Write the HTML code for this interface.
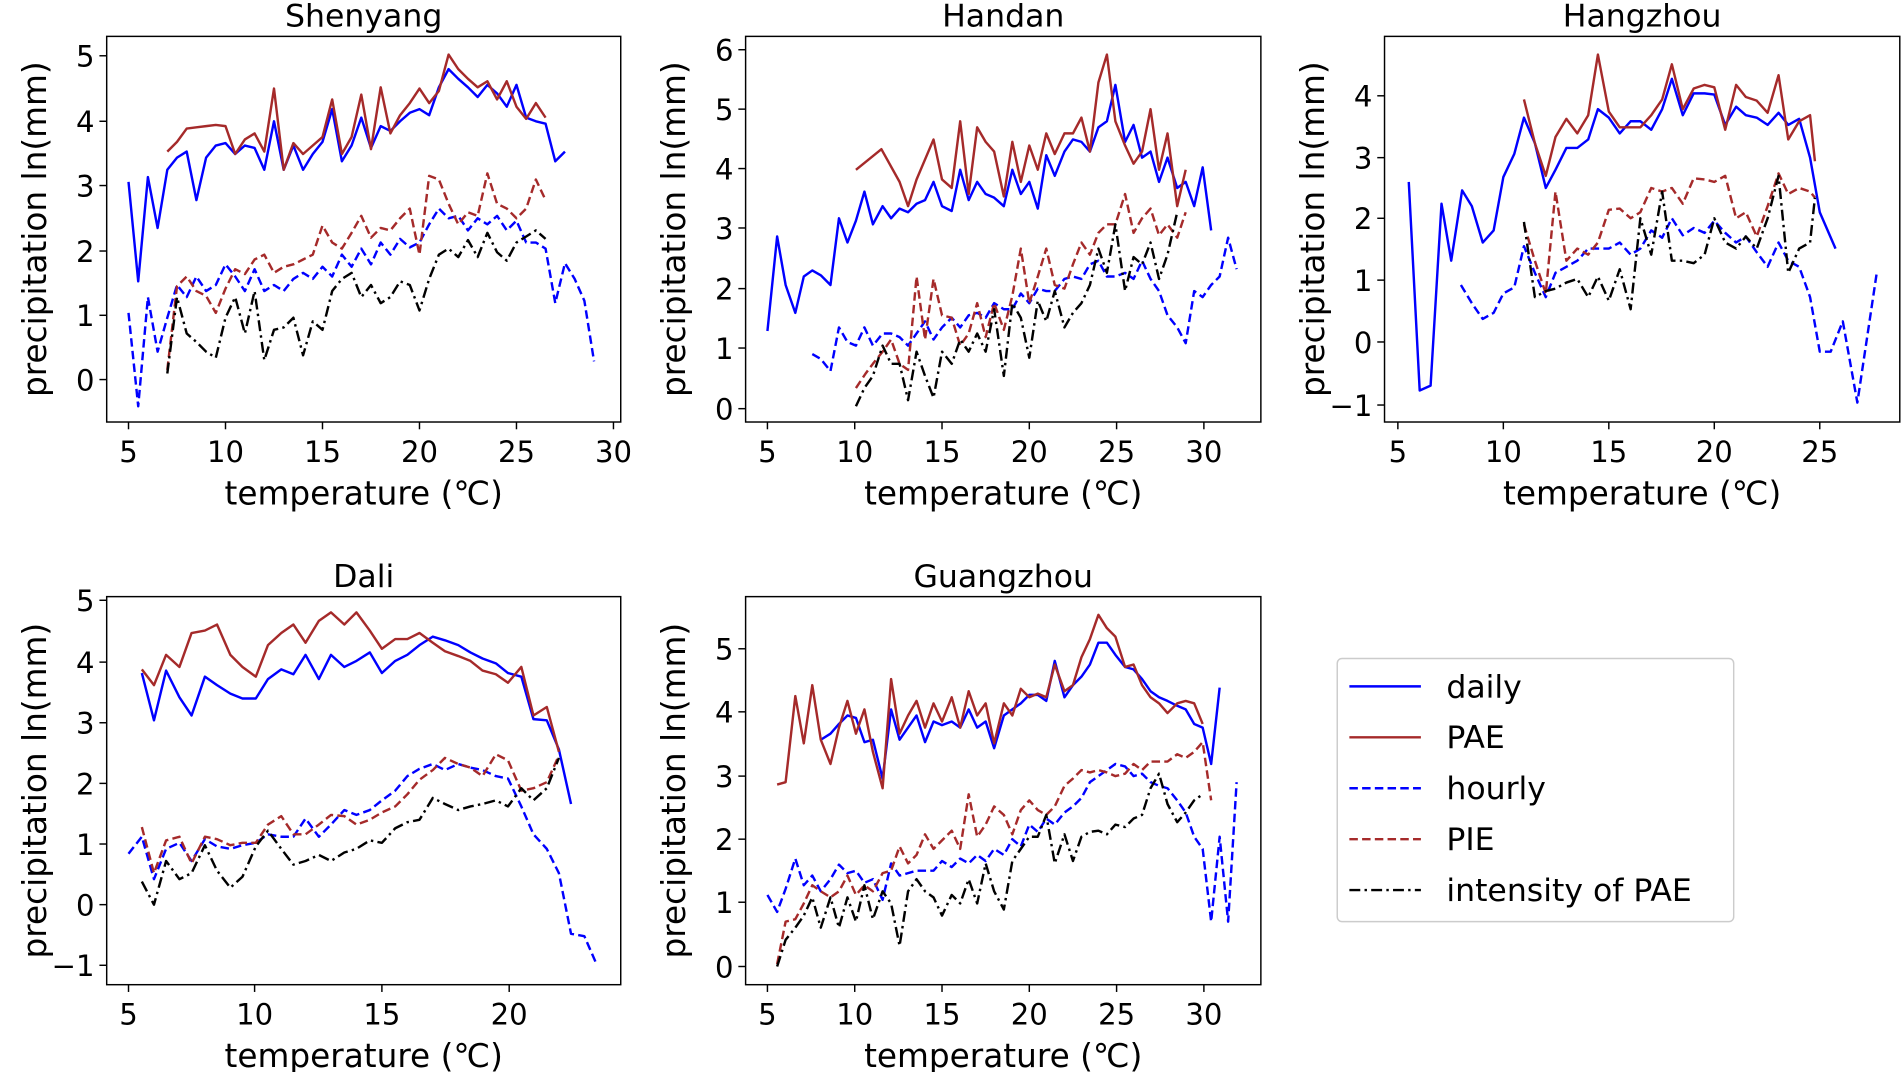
<!DOCTYPE html>
<html><head><meta charset="utf-8"><style>
html,body{margin:0;padding:0;background:#fff;}
svg{display:block;}
text{font-family:"DejaVu Sans","Liberation Sans",sans-serif;fill:#000;}
</style></head><body>
<svg id="s" width="1901" height="1072" viewBox="0 0 1568 884" preserveAspectRatio="none" xmlns="http://www.w3.org/2000/svg"></svg>
<script>
const S=document.getElementById('s');let h='';
function P(a){return a.map(p=>p.join(',')).join(' ');}
function line(pts,c,d){h+=`<polyline points="${P(pts)}" fill="none" stroke="${c}" stroke-width="2" stroke-linejoin="round" ${d?`stroke-dasharray="${d}"`:''}/>`;}
const BL='#0000ff',RD='#a52a2a',K='#000';
const DA='7,3.5',DD='9,3.5,2,3.5';
function panel(x0,x1,y0,y1,title,xt,yt,ser){
  ser.forEach(s=>line(s[0],s[1],s[2]));
  h+=`<rect x="${x0}" y="${y0}" width="${x1-x0}" height="${y1-y0}" fill="none" stroke="#000" stroke-width="1.2"/>`;
  xt.forEach(t=>{h+=`<line x1="${t[0]}" x2="${t[0]}" y1="${y1}" y2="${y1+6}" stroke="#000" stroke-width="1.2"/><text x="${t[0]}" y="${y1+33}" font-size="24" text-anchor="middle">${t[1]}</text>`;});
  yt.forEach(t=>{h+=`<line x1="${x0-6}" x2="${x0}" y1="${t[0]}" y2="${t[0]}" stroke="#000" stroke-width="1.2"/><text x="${x0-10}" y="${t[0]+9}" font-size="24" text-anchor="end">${t[1]}</text>`;});
  const cx=(x0+x1)/2;
  h+=`<text x="${cx}" y="${y0-8}" font-size="26" text-anchor="middle">${title}</text>`;
  h+=`<text x="${cx}" y="${y1+68}" font-size="27" text-anchor="middle">temperature (℃)</text>`;
  const cy=(y0+y1)/2;
  h+=`<text transform="translate(${x0-50},${cy}) rotate(-90)" font-size="27" text-anchor="middle">precipitation ln(mm)</text>`;
}
// Shenyang
panel(88,512,30,348,'Shenyang',[[106,5],[186,10],[266,15],[346,20],[426,25],[506,30]],[[313,0],[260,1],[207,2],[153,3],[100,4],[46,5]],[
[[[106,150],[114,232],[122,146],[130,188],[138,140],[146,130],[154,125],[162,165],[170,130],[178,120],[186,118],[194,127],[202,120],[210,122],[218,140],[226,100],[234,140],[242,120],[250,140],[258,127],[266,117],[274,90],[282,133],[290,120],[298,97],[306,122],[314,104],[322,108],[330,100],[338,93],[346,90],[354,95],[362,72],[370,57],[378,65],[386,72],[394,80],[402,70],[410,77],[418,88],[426,70],[434,97],[442,100],[450,102],[458,133],[466,125]],BL],
[[[138,125],[146,117],[154,106],[162,105],[170,104],[178,103],[186,104],[194,127],[202,115],[210,110],[218,125],[226,73],[234,140],[242,118],[250,127],[258,120],[266,113],[274,82],[282,127],[290,113],[298,78],[306,123],[314,72],[322,110],[330,95],[338,85],[346,73],[354,85],[362,75],[370,45],[378,57],[386,65],[394,72],[402,67],[410,82],[418,67],[426,88],[434,98],[442,85],[450,97]],RD],
[[[106,258],[114,335],[122,245],[130,290],[138,262],[146,235],[154,245],[162,228],[170,240],[178,235],[186,218],[194,228],[202,240],[210,222],[218,240],[226,235],[234,240],[242,230],[250,225],[258,230],[266,220],[274,228],[282,210],[290,220],[298,205],[306,218],[314,200],[322,210],[330,197],[338,204],[346,200],[354,185],[362,172],[370,180],[378,178],[386,190],[394,180],[402,185],[410,178],[418,190],[426,182],[434,200],[442,200],[450,205],[458,250],[466,217],[474,230],[482,248],[490,298]],BL,DA],
[[[138,305],[146,236],[154,228],[162,240],[170,244],[178,258],[186,238],[194,222],[202,226],[210,214],[218,210],[226,225],[234,220],[242,218],[250,214],[258,210],[266,186],[274,200],[282,205],[290,192],[298,178],[306,196],[314,188],[322,190],[330,180],[338,172],[346,210],[354,145],[362,148],[370,168],[378,185],[386,175],[394,178],[402,143],[410,168],[418,172],[426,180],[434,172],[442,148],[450,165]],RD,DA],
[[[138,308],[146,245],[154,275],[162,282],[170,290],[178,295],[186,262],[194,245],[202,275],[210,240],[218,297],[226,272],[234,270],[242,262],[250,293],[258,265],[266,272],[274,240],[282,230],[290,225],[298,245],[306,235],[314,250],[322,245],[330,232],[338,235],[346,256],[354,230],[362,210],[370,205],[378,212],[386,198],[394,212],[402,192],[410,208],[418,215],[426,200],[434,195],[442,190],[450,197]],K,DD]
]);
// Handan
panel(615,1040,30,348,'Handan',[[633,5],[705,10],[777,15],[849,20],[921,25],[993,30]],[[337,0],[287,1],[238,2],[188,3],[139,4],[90,5],[41,6]],[
[[[633,273],[641,195],[648,235],[656,258],[663,228],[670,223],[677,227],[685,235],[692,180],[699,200],[706,182],[713,158],[720,185],[728,170],[735,180],[742,172],[749,175],[756,168],[763,165],[770,150],[777,170],[785,174],[792,140],[799,165],[806,150],[813,160],[820,163],[828,170],[835,140],[842,160],[849,150],[856,172],[863,128],[870,145],[878,125],[885,115],[892,117],[899,125],[906,105],[913,100],[920,70],[928,117],[935,103],[942,130],[949,125],[956,150],[963,130],[971,155],[978,150],[985,170],[992,138],[999,190]],BL],
[[[706,140],[727,123],[742,150],[749,170],[756,148],[770,115],[777,148],[785,155],[792,100],[799,160],[806,105],[813,117],[820,125],[828,162],[835,117],[842,150],[849,120],[856,140],[863,110],[870,127],[878,110],[885,110],[892,97],[899,125],[906,68],[913,45],[920,100],[928,120],[935,135],[942,125],[949,90],[956,140],[963,110],[971,170],[978,140]],RD],
[[[670,292],[677,296],[685,306],[692,270],[699,282],[706,285],[713,270],[720,285],[728,275],[735,275],[742,278],[749,285],[756,275],[763,265],[770,280],[777,270],[785,262],[792,270],[799,260],[806,258],[813,262],[820,250],[828,255],[835,255],[842,242],[849,250],[856,238],[863,240],[870,240],[878,230],[885,228],[892,230],[899,218],[906,215],[913,228],[920,228],[928,225],[935,230],[942,215],[949,230],[956,240],[963,260],[971,270],[978,283],[985,240],[992,245],[999,235],[1006,228],[1013,196],[1020,222]],BL,DA],
[[[706,320],[714,308],[720,300],[728,290],[735,280],[742,300],[749,305],[756,228],[763,280],[770,230],[777,260],[785,262],[792,285],[799,275],[806,250],[813,278],[820,250],[828,272],[835,244],[842,205],[849,250],[856,228],[863,205],[870,235],[878,238],[885,218],[892,200],[899,210],[906,192],[913,185],[920,185],[928,160],[935,192],[942,180],[949,172],[956,194],[963,185],[971,196],[978,175]],RD,DA],
[[[706,335],[713,320],[720,310],[728,285],[735,300],[742,300],[749,330],[756,290],[763,310],[770,328],[777,290],[785,300],[792,280],[799,290],[806,275],[813,290],[820,255],[828,310],[835,250],[842,262],[849,295],[856,248],[863,265],[870,240],[878,270],[885,258],[892,250],[899,235],[906,205],[913,225],[920,185],[928,240],[935,212],[942,218],[949,200],[956,230],[963,210],[971,175]],K,DD]
]);
// Hangzhou
panel(1142,1567,30,348,'Hangzhou',[[1153,5],[1240,10],[1327,15],[1414,20],[1501,25]],[[79,4],[130,3],[180,2],[231,1],[282,0],[334,'−1']],[
[[[1162,150],[1171,322],[1180,318],[1189,168],[1197,215],[1206,157],[1214,170],[1223,200],[1232,190],[1240,146],[1249,127],[1257,97],[1266,118],[1275,155],[1283,140],[1292,122],[1301,122],[1310,115],[1318,90],[1327,97],[1336,110],[1345,100],[1353,100],[1362,107],[1371,90],[1379,65],[1388,95],[1397,77],[1406,77],[1414,78],[1423,103],[1432,88],[1440,95],[1449,97],[1458,103],[1467,93],[1475,103],[1484,98],[1493,130],[1501,175],[1514,205]],BL],
[[[1257,82],[1266,118],[1275,145],[1283,113],[1292,98],[1301,110],[1310,95],[1318,45],[1327,92],[1336,105],[1345,105],[1353,105],[1362,95],[1371,82],[1379,53],[1388,90],[1397,73],[1406,70],[1414,72],[1423,107],[1432,70],[1440,80],[1449,83],[1458,93],[1467,62],[1475,115],[1484,100],[1493,95],[1497,133]],RD],
[[[1205,235],[1214,250],[1223,263],[1232,258],[1240,242],[1249,237],[1257,203],[1266,225],[1275,245],[1283,225],[1292,220],[1301,215],[1310,205],[1318,205],[1327,205],[1336,200],[1345,210],[1353,205],[1362,190],[1371,196],[1379,180],[1388,194],[1397,188],[1406,192],[1414,182],[1423,192],[1432,200],[1440,195],[1449,208],[1458,220],[1467,200],[1475,215],[1484,220],[1493,245],[1501,290],[1510,290],[1520,265],[1532,332],[1548,225]],BL,DA],
[[[1257,185],[1266,215],[1275,242],[1283,158],[1292,215],[1301,205],[1310,210],[1318,200],[1327,173],[1336,172],[1345,180],[1353,175],[1362,155],[1371,158],[1379,155],[1388,168],[1397,147],[1406,148],[1414,150],[1423,145],[1432,180],[1440,175],[1449,195],[1458,170],[1467,143],[1475,160],[1484,155],[1493,158],[1497,163]],RD,DA],
[[[1257,183],[1266,245],[1275,240],[1283,238],[1292,233],[1301,230],[1310,245],[1318,228],[1327,248],[1336,222],[1345,255],[1353,180],[1362,210],[1371,158],[1379,215],[1388,215],[1397,217],[1406,210],[1414,180],[1423,200],[1432,205],[1440,195],[1449,205],[1458,180],[1467,145],[1475,225],[1484,205],[1493,200],[1497,163]],K,DD]
]);
// Dali
panel(88,512,492,812,'Dali',[[106,5],[210,10],[315,15],[420,20]],[[495,5],[546,4],[596,3],[646,2],[696,1],[746,0],[796,'−1']],[
[[[117,555],[127,594],[137,553],[148,575],[158,590],[169,558],[179,565],[190,572],[200,576],[211,576],[221,560],[232,552],[242,556],[252,540],[263,560],[273,540],[284,550],[294,545],[305,538],[315,555],[326,545],[336,540],[346,532],[357,525],[367,528],[378,532],[388,538],[398,543],[409,547],[419,555],[430,558],[440,593],[451,594],[461,618],[471,663]],BL],
[[[117,552],[127,565],[137,540],[148,550],[158,522],[169,520],[179,515],[190,540],[200,550],[211,558],[221,532],[232,522],[242,515],[252,530],[263,512],[273,505],[284,515],[294,505],[305,520],[315,535],[326,527],[336,527],[346,522],[357,530],[367,537],[378,541],[388,545],[398,553],[409,556],[419,563],[430,550],[440,590],[451,583],[461,620]],RD],
[[[106,704],[117,690],[127,725],[137,700],[148,695],[158,710],[169,692],[179,698],[190,700],[200,697],[211,695],[221,688],[232,690],[242,690],[252,675],[263,690],[273,680],[284,668],[294,672],[305,668],[315,660],[326,652],[336,640],[346,634],[357,630],[367,635],[378,630],[388,633],[398,635],[409,640],[419,642],[430,665],[440,688],[451,700],[461,720],[471,770],[482,772],[492,795]],BL,DA],
[[[117,682],[127,720],[137,693],[148,690],[158,712],[169,690],[179,692],[190,697],[200,695],[211,695],[221,680],[232,673],[242,688],[252,688],[263,680],[273,672],[284,673],[294,680],[305,676],[315,670],[326,665],[336,655],[346,643],[357,635],[367,625],[378,630],[388,633],[398,640],[409,622],[419,627],[430,652],[440,650],[451,645],[461,623]],RD,DA],
[[[117,727],[127,746],[137,710],[148,725],[158,720],[169,697],[179,718],[190,732],[200,723],[211,698],[221,685],[232,700],[242,713],[252,710],[263,705],[273,710],[284,703],[294,700],[305,693],[315,695],[326,683],[336,678],[346,676],[357,658],[367,663],[378,668],[388,665],[398,663],[409,660],[419,665],[430,650],[440,660],[451,650],[461,625]],K,DD]
]);
// Guangzhou
panel(615,1040,492,812,'Guangzhou',[[633,5],[705,10],[777,15],[849,20],[921,25],[993,30]],[[797,0],[744,1],[692,2],[640,3],[587,4],[535,5]],[
[[[677,610],[685,605],[692,597],[699,590],[706,592],[713,612],[720,610],[728,642],[735,585],[742,610],[749,600],[756,590],[763,612],[770,595],[777,598],[785,595],[792,600],[799,585],[806,600],[813,595],[820,617],[828,590],[835,585],[842,580],[849,573],[856,573],[863,578],[870,545],[878,575],[885,565],[892,558],[899,548],[906,530],[913,530],[920,540],[928,550],[935,552],[942,560],[949,570],[956,575],[963,578],[971,582],[978,585],[985,597],[992,600],[999,630],[1006,567]],BL],
[[[641,647],[648,645],[656,574],[663,613],[670,565],[677,610],[685,630],[692,600],[699,578],[706,605],[713,585],[720,620],[728,650],[735,560],[742,605],[749,590],[756,578],[763,600],[770,580],[777,595],[785,575],[792,600],[799,570],[806,590],[813,580],[820,613],[828,580],[835,590],[842,568],[849,575],[856,572],[863,575],[870,548],[878,570],[885,565],[892,542],[899,527],[906,507],[913,518],[920,525],[928,550],[935,548],[942,565],[949,575],[956,580],[963,588],[971,580],[978,578],[985,580],[992,597]],RD],
[[[633,738],[641,752],[648,733],[656,708],[663,730],[670,722],[677,735],[685,725],[692,713],[699,720],[706,718],[713,728],[720,725],[728,742],[735,712],[742,722],[749,720],[756,718],[763,718],[770,718],[777,710],[785,715],[792,708],[799,712],[806,705],[813,710],[820,700],[828,705],[835,692],[842,698],[849,680],[856,686],[863,675],[870,680],[878,670],[885,665],[892,658],[899,645],[906,640],[913,635],[920,630],[928,632],[935,640],[942,638],[949,645],[956,648],[963,650],[971,660],[978,670],[985,690],[992,700],[999,760],[1006,690],[1013,760],[1020,645]],BL,DA],
[[[641,795],[648,760],[656,758],[663,745],[670,730],[677,735],[685,740],[692,735],[699,722],[706,738],[713,730],[720,735],[728,720],[735,718],[742,698],[749,712],[756,705],[763,688],[770,700],[777,693],[785,685],[792,700],[799,655],[806,690],[813,680],[820,665],[828,672],[835,688],[842,668],[849,660],[856,668],[863,672],[870,665],[878,648],[885,642],[892,635],[899,637],[906,635],[913,637],[920,640],[928,638],[935,630],[942,635],[949,628],[956,628],[963,628],[971,622],[978,625],[985,620],[992,612],[999,660]],RD,DA],
[[[641,797],[648,775],[656,765],[663,755],[670,740],[677,765],[685,740],[692,765],[699,740],[706,760],[713,730],[720,758],[728,735],[735,745],[742,780],[749,735],[756,725],[763,735],[770,740],[777,755],[785,738],[792,745],[799,725],[806,745],[813,712],[820,735],[828,750],[835,710],[842,700],[849,690],[856,690],[863,672],[870,712],[878,688],[885,710],[892,690],[899,686],[906,685],[913,688],[920,680],[928,682],[935,675],[942,672],[949,650],[956,638],[963,663],[971,678],[978,670],[985,660],[992,655]],K,DD]
]);
// legend
h+=`<rect x="1103" y="543" width="327" height="217" rx="4" fill="#fff" stroke="#ccc" stroke-width="1.2"/>`;
[['daily',BL,''],['PAE',RD,''],['hourly',BL,DA],['PIE',RD,DA],['intensity of PAE',K,DD]].forEach((e,i)=>{
 const y=566+i*42;
 h+=`<line x1="1113" x2="1172" y1="${y}" y2="${y}" stroke="${e[1]}" stroke-width="2" ${e[2]?`stroke-dasharray="${e[2]}"`:''}/>`;
 h+=`<text x="1193" y="${y+9}" font-size="26">${e[0]}</text>`;
});
S.innerHTML=h;
</script>
</body></html>
